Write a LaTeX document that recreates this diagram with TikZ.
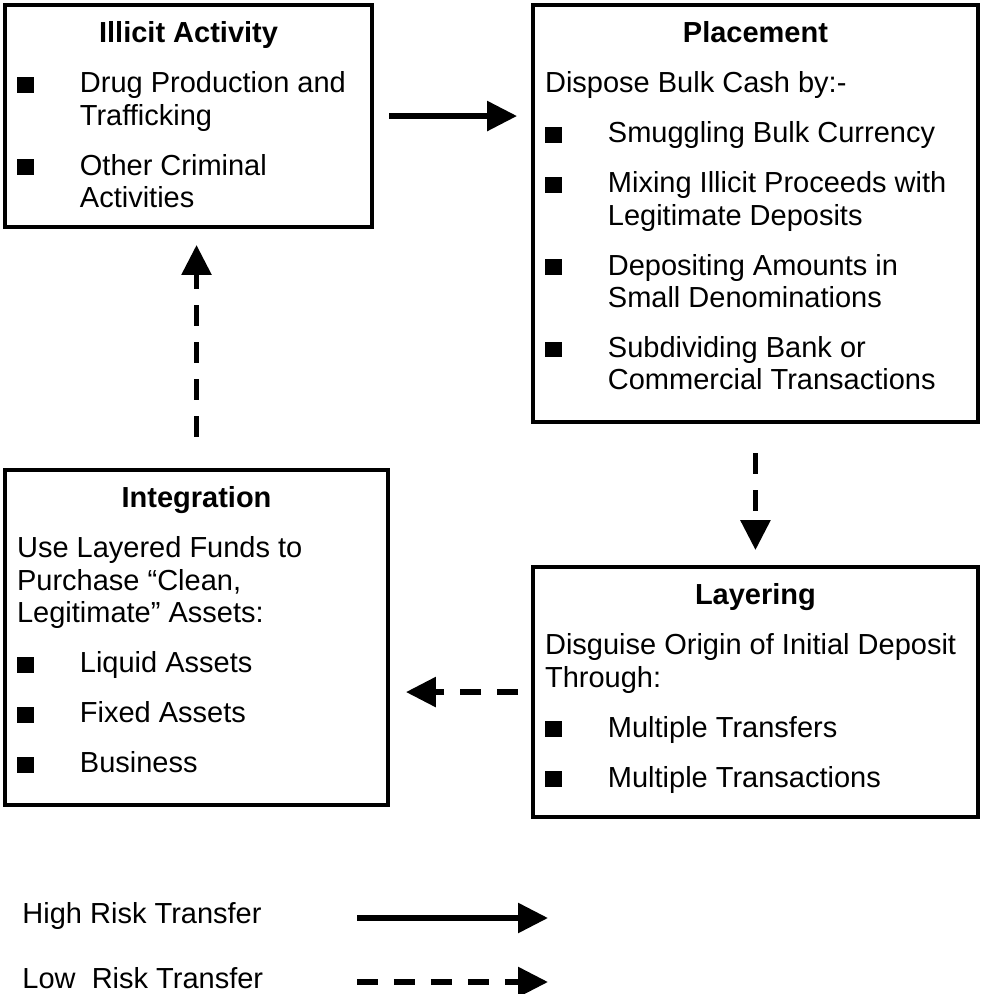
\documentclass[tikz,border=0pt]{standalone}
\usepackage{fontspec}
\setmainfont{Liberation Sans}
\usetikzlibrary{arrows.meta}

% box contents: fixed size, text from the top
\newcommand{\stage}[3]{\parbox[c][#2][t]{#1}{\setlength{\parskip}{7.2pt}\raggedright #3}}
\newcommand{\stagetitle}[1]{{\centering\bfseries\rule{0pt}{15.7pt}#1\par}}
\newcommand{\itm}[1]{\par\noindent\hangindent=26pt\hangafter=1\makebox[26pt][l]{\rule{7pt}{6.6pt}}#1\par}

\begin{document}
\begin{tikzpicture}[x=0.4138pt, y=-0.4138pt,
    box/.style={draw, line width=1.85pt, inner xsep=5pt, inner ysep=0pt, outer sep=0pt,
      anchor=north west, font=\fontsize{12pt}{13.45pt}\selectfont},
    flow/.style={line width=2.35pt, -{Triangle[length=12.4pt, width=12pt]}},
    hirisk/.style={flow},
    lorisk/.style={flow, dash pattern=on 8.7pt off 6.6pt},
    legend/.style={anchor=base west, inner sep=0pt, font=\fontsize{12pt}{13.45pt}\selectfont}]
  \useasboundingbox (0,0) rectangle (982,994);

  % The four stages
  \node[box] (illicit) at (5,5) {\stage{141.9pt}{91.9pt}{%
    \stagetitle{Illicit Activity}
    \itm{Drug Production and\newline Trafficking}
    \itm{Other Criminal\newline Activities}}};

  \node[box] (placement) at (533,5) {\stage{174.1pt}{172.6pt}{%
    \stagetitle{Placement}
    Dispose Bulk Cash by:-\par
    \itm{Smuggling Bulk Currency}
    \itm{Mixing Illicit Proceeds with\newline Legitimate Deposits}
    \itm{Depositing Amounts in\newline Small Denominations}
    \itm{Subdividing Bank or\newline Commercial Transactions}}};

  \node[box] (integration) at (5,470) {\stage{148.5pt}{138.6pt}{%
    \stagetitle{Integration}
    Use Layered Funds to\newline Purchase “Clean,\newline Legitimate” Assets:\par
    \itm{Liquid Assets}
    \itm{Fixed Assets}
    \itm{Business}}};

  \node[box] (layering) at (533,567) {\stage{174.1pt}{103.5pt}{%
    \stagetitle{Layering}
    Disguise Origin of Initial Deposit\newline Through:\par
    \itm{Multiple Transfers}
    \itm{Multiple Transactions}}};

  % Transfers between stages
  \draw[hirisk, shorten <=7pt, shorten >=6.6pt] (illicit.east) -- (illicit.east -| placement.west);
  \draw[lorisk, shorten <=12.8pt, shorten >=7pt] (placement.south) -- (placement.south |- layering.north);
  \draw[lorisk, shorten <=6.2pt, shorten >=7.4pt] (layering.west) -- (layering.west -| integration.east);
  \draw[lorisk, shorten <=13.7pt, shorten >=7.4pt] (integration.north) -- (integration.north |- illicit.south);

  % Legend
  \node[legend] (hitext) at (22,923) {High Risk Transfer};
  \node[legend] (lotext) at (22,988) {Low\ \ Risk Transfer};
  \coordinate (hi-a) at (357,918);
  \coordinate (hi-b) at (548,918);
  \coordinate (lo-a) at (357,982);
  \coordinate (lo-b) at (548,982);
  \draw[hirisk] (hi-a) -- (hi-b);
  \draw[lorisk] (lo-a) -- (lo-b);
\end{tikzpicture}
\end{document}
